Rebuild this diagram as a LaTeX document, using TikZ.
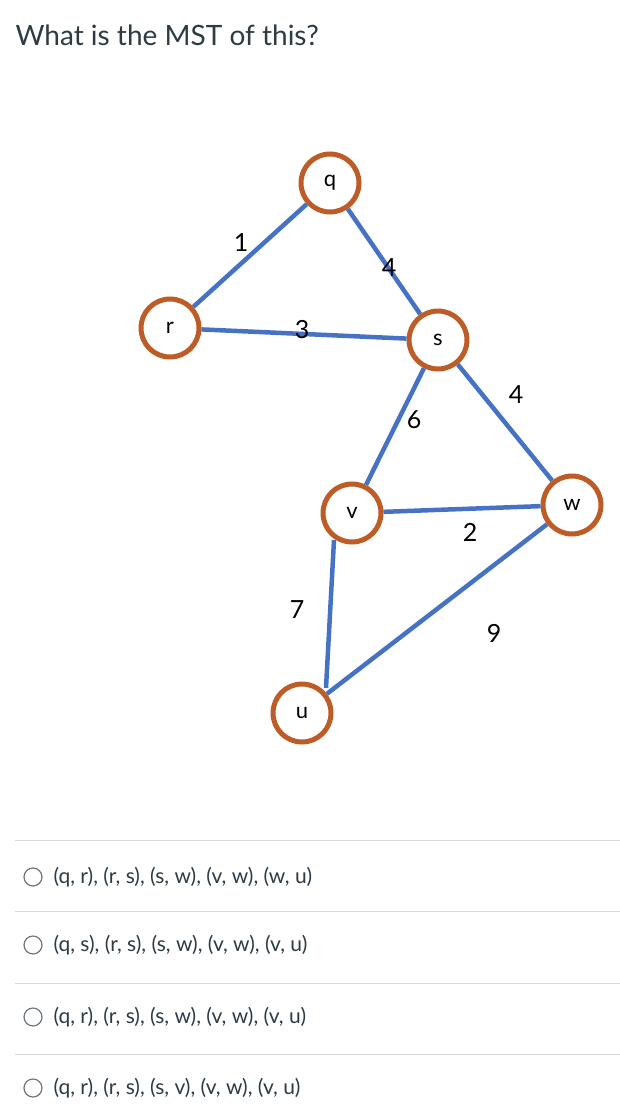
\documentclass[tikz,border=0pt]{standalone}
\usepackage{fontspec}
\setmainfont{Lato}
\definecolor{edge}{RGB}{70,114,196}
\definecolor{ring}{RGB}{190,92,40}
\definecolor{sep}{RGB}{215,215,215}
\definecolor{txt}{RGB}{45,59,69}
\begin{document}
\begin{tikzpicture}[x=1pt,y=-1pt,
  vert/.style={circle,draw=ring,line width=5pt,fill=white,minimum size=58pt,inner sep=0pt,font=\fontsize{22}{24}\selectfont},
  e/.style={draw=edge,line width=4.5pt},
  w/.style={font=\fontsize{25}{28}\selectfont},
  opt/.style={anchor=west,text=txt,font=\fontsize{21}{24}\selectfont},
  radio/.style={circle,draw=txt!70,line width=1.2pt,minimum size=18pt,inner sep=0pt}]
\useasboundingbox (0,0) rectangle (620,1116);
\node[anchor=west,text=txt,font=\fontsize{28}{32}\selectfont] (title) at (12,35) {What is the MST of this?};
\node[vert] (q) at (330,183) {q};
\node[vert] (r) at (170,328) {r};
\node[vert] (s) at (438,340) {s};
\node[vert] (v) at (352,513) {v};
\node[vert] (wn) at (572,505) {w};
\node[vert] (u) at (302,713) {u};
\coordinate (va) at (334,540);
\coordinate (ua) at (326,688);
\draw[e] (q) -- (r);
\draw[e] (q) -- (s);
\draw[e] (r) -- (s);
\draw[e] (s) -- (v);
\draw[e] (s) -- (wn);
\draw[e] (v) -- (wn);
\draw[e] (va) -- (ua);
\draw[e] (wn) -- (u);
\node[w] (l1) at (241,243) {1};
\node[w] (l2) at (389,268) {4};
\node[w] (l3) at (302,330) {3};
\node[w] (l4) at (414,420) {6};
\node[w] (l5) at (516,395) {4};
\node[w] (l6) at (470,532) {2};
\node[w] (l7) at (297,610) {7};
\node[w] (l8) at (494,633) {9};
\foreach \y/\n in {840/a,911/b,983/c,1054/d}
  \draw[sep,line width=0.8pt] (15,\y) -- (620,\y);
\node[radio] (c1) at (33,877) {};
\node[opt] (o1) at (50,877) {(q, r), (r, s), (s, w), (v, w), (w, u)};
\node[radio] (c2) at (33,945) {};
\node[opt] (o2) at (50,945) {(q, s), (r, s), (s, w), (v, w), (v, u)};
\node[radio] (c3) at (33,1017) {};
\node[opt] (o3) at (50,1017) {(q, r), (r, s), (s, w), (v, w), (v, u)};
\node[radio] (c4) at (33,1088) {};
\node[opt] (o4) at (50,1088) {(q, r), (r, s), (s, v), (v, w), (v, u)};
\end{tikzpicture}
\end{document}
